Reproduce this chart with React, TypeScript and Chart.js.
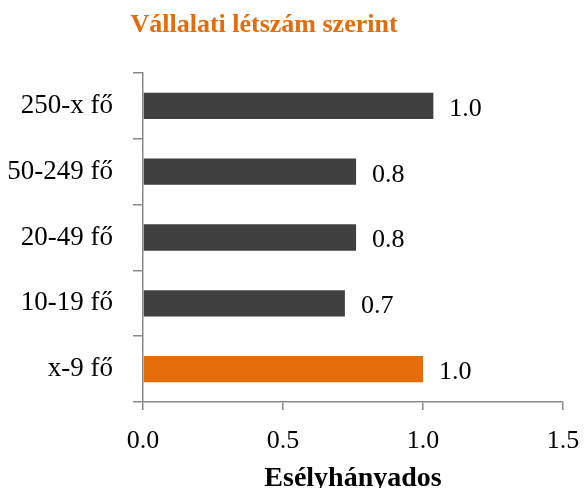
import React, { useEffect, useRef } from "react";
import { Chart, registerables } from "chart.js";

Chart.register(...registerables);

const chartTitle = "Vállalati létszám szerint";
const axisTitle = "Esélyhányados";
const categories = ["250-x fő", "50-249 fő", "20-49 fő", "10-19 fő", "x-9 fő"];
const values = [1.037, 0.761, 0.761, 0.721, 1.0];
const barColors = ["#404040", "#404040", "#404040", "#404040", "#E46C0A"];
const xTicks = [0, 0.5, 1.0, 1.5];

const FONT = "'Liberation Serif', 'Times New Roman', serif";
const AXIS_COLOR = "#8a8a8a";

const titlePlugin = {
  id: "customTitle",
  afterDraw(chart: any) {
    const ctx = chart.ctx;
    ctx.save();
    ctx.font = `bold 26px ${FONT}`;
    ctx.fillStyle = "#E46C0A";
    ctx.textAlign = "center";
    ctx.textBaseline = "middle";
    ctx.fillText(chartTitle, chart.width * 0.449, 25);
    ctx.restore();
  },
};

const valueLabels = {
  id: "valueLabels",
  afterDatasetsDraw(chart: any) {
    const ctx = chart.ctx;
    const meta = chart.getDatasetMeta(0);
    const data = chart.data.datasets[0].data as number[];
    ctx.save();
    ctx.font = `26px ${FONT}`;
    ctx.fillStyle = "#000";
    ctx.textAlign = "left";
    ctx.textBaseline = "middle";
    meta.data.forEach((el: any, i: number) => {
      ctx.fillText(data[i].toFixed(1), el.x + 16, el.y + 3);
    });
    ctx.restore();
  },
};

export default function App() {
  const ref = useRef<HTMLCanvasElement>(null);
  useEffect(() => {
    document.body.style.margin = "0";
    const chart = new Chart(ref.current!, {
      type: "bar",
      data: {
        labels: categories,
        datasets: [
          {
            data: values,
            backgroundColor: barColors,
            barPercentage: 0.4,
            categoryPercentage: 1,
          },
        ],
      },
      options: {
        indexAxis: "y",
        responsive: false,
        animation: false,
        layout: { padding: { top: 73, left: 0, right: 25, bottom: 0 } },
        plugins: {
          legend: { display: false },
          tooltip: { enabled: false },
          title: { display: false },
        },
        scales: {
          x: {
            min: 0,
            max: 1.5,
            afterFit: (s: any) => {
              s.height = 86;
              s.paddingLeft = 0;
              s.paddingRight = 0;
            },
            afterBuildTicks: (s: any) => {
              s.ticks = xTicks.map((v) => ({ value: v }));
            },
            ticks: {
              padding: 16,
              color: "#000",
              font: { family: FONT, size: 26 },
              callback: (v: any) => Number(v).toFixed(1),
            },
            grid: {
              drawOnChartArea: false,
              drawTicks: true,
              tickLength: 8,
              color: AXIS_COLOR,
              lineWidth: 1.5,
            },
            border: { display: true, color: AXIS_COLOR, width: 1.5 },
            title: {
              display: true,
              text: axisTitle,
              color: "#000",
              font: { family: FONT, size: 28, weight: "bold" },
              padding: { top: 0, bottom: -8 },
            },
          },
          y: {
            afterFit: (s: any) => {
              s.width = 143;
            },
            ticks: {
              padding: 20,
              color: "#000",
              font: { family: FONT, size: 27 },
            },
            grid: {
              drawOnChartArea: false,
              drawTicks: true,
              tickLength: 10,
              color: AXIS_COLOR,
              lineWidth: 1.5,
            },
            border: { display: true, color: AXIS_COLOR, width: 1.5 },
          },
        },
      },
      plugins: [titlePlugin, valueLabels],
    });
    return () => chart.destroy();
  }, []);
  return (
    <div style={{ width: 588, height: 488 }}>
      <canvas ref={ref} width={588} height={488} />
    </div>
  );
}
